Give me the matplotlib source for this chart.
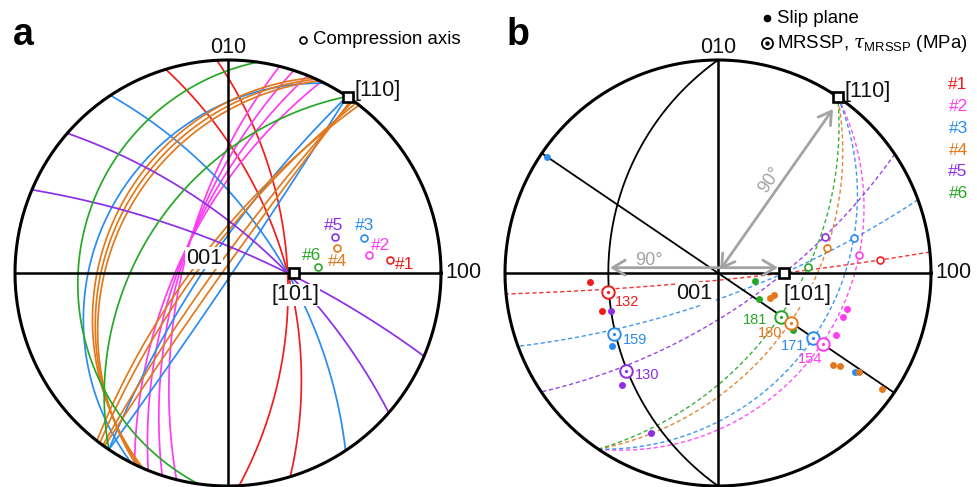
import numpy as np
import matplotlib.pyplot as plt

plt.rcParams['font.family'] = ['Liberation Sans', 'DejaVu Sans']
plt.rcParams['mathtext.fontset'] = 'custom'
plt.rcParams['mathtext.rm'] = 'Liberation Sans'
plt.rcParams['mathtext.it'] = 'DejaVu Serif:italic'

# stereographic coordinates: 001 at the centre, 100 to the right, 010 up
SAMPLES = ['#1', '#2', '#3', '#4', '#5', '#6']
COLORS = ['#f21c1c', '#ff3cf2', '#2a8cf0', '#e2791c', '#8e2ee6', '#26a826']

# compression axis of each sample
AXIS_U = [0.760, 0.663, 0.637, 0.512, 0.501, 0.423]
AXIS_V = [0.061, 0.085, 0.162, 0.116, 0.171, 0.027]

# zone axes
AZ_110 = 55.8          # [110] lies on the primitive
U_101 = 0.31           # [101] on the 100 axis
U_101_TRACE = 0.28     # where the measured traces meet near [101]

# slip plane traces (panel a): azimuth of one rim end (deg) and crossing on the 100 axis
TRACE_AZ = [
    [93, 107],
    [76, 72, 68, 64],
    [123.5, 63, 56, 56],
    [66.5, 65.5, 64.5, 52, 53, 54, 54.5],
    [139, 157],
    [82, 56],
]
TRACE_U = [
    [U_101_TRACE, U_101_TRACE],
    [-0.216, -0.228, -0.239, -0.249],
    [U_101_TRACE, -0.657, -0.122, 0.02],
    [-0.615, -0.597, -0.580, -0.178, -0.150, -0.070, -0.028],
    [U_101_TRACE, U_101_TRACE],
    [-0.704, -0.460],
]

# panel b: zones used for the dashed great circles through each compression axis
DASH_ZONES = [['101'], ['110'], ['110', '101'], ['110'], ['101'], ['110']]

# slip plane poles (panel b)
DOT_SAMPLE = [0, 0, 4, 2, 4, 4, 5, 5, 3, 3, 5, 1, 1, 1, 3, 3, 2, 3, 3, 2]
DOT_U = [-0.601, -0.546, -0.504, -0.499, -0.449, -0.316, 0.176, 0.194, 0.244, 0.265,
         0.352, 0.607, 0.588, 0.554, 0.540, 0.573, 0.643, 0.663, 0.771, -0.804]
DOT_V = [-0.044, -0.177, -0.177, -0.343, -0.526, -0.750, -0.036, -0.124, -0.117, -0.103,
         -0.268, -0.169, -0.207, -0.293, -0.432, -0.435, -0.463, -0.463, -0.545, 0.543]

# maximum resolved shear stress planes and their stress (MPa)
MRSSP_SAMPLE = [0, 2, 4, 5, 3, 2, 1]
MRSSP_U = [-0.515, -0.487, -0.433, 0.296, 0.343, 0.447, 0.492]
MRSSP_V = [-0.091, -0.288, -0.460, -0.205, -0.236, -0.304, -0.335]
MRSSP_TAU = [132, 159, 130, 181, 180, 171, 154]

# reference great circles of panel b: rim azimuth and 100-axis crossing
REF_AZ = [90, 145.8]
REF_U = [-0.515, 0.0]

R_PX = 213.0
W, H = 977, 487


def to_sphere(u, v):
    r2 = u * u + v * v
    return np.array([2 * u, 2 * v, 1 - r2]) / (1 + r2)


def rim(az):
    a = np.radians(az)
    return np.array([np.cos(a), np.sin(a), 0.0])


def great_circle(p, q, n_pts=400):
    n = np.cross(p, q)
    n /= np.linalg.norm(n)
    h = np.cross(n, [0.0, 0.0, 1.0])
    h /= np.linalg.norm(h)
    w = np.cross(n, h)
    if w[2] < 0:
        w = -w
    t = np.linspace(0, np.pi, n_pts)
    pts = np.outer(np.cos(t), h) + np.outer(np.sin(t), w)
    z = pts[:, 2]
    return pts[:, 0] / (1 + z), pts[:, 1] / (1 + z)


def make_panel(fig, left, right, cx, cy=273):
    ax = fig.add_axes([left / W, 0, (right - left) / W, 1])
    ax.set_xlim((left - cx) / R_PX, (right - cx) / R_PX)
    ax.set_ylim((cy - H) / R_PX, cy / R_PX)
    ax.axis('off')
    t = np.linspace(0, 2 * np.pi, 720)
    ax.plot(np.cos(t), np.sin(t), color='black', lw=2.2, zorder=4, clip_on=False)
    ax.plot([-1, 1], [0, 0], color='black', lw=1.8, zorder=3)
    ax.plot([0, 0], [-1, 1], color='black', lw=1.8, zorder=3)
    return ax


def square(ax, u, v):
    ax.plot(u, v, 's', ms=7.5, mfc='white', mec='black', mew=1.9, zorder=8)


fig = plt.figure(figsize=(W / 100, H / 100), dpi=100)
lab = dict(fontsize=15.5, color='#111111')
box = dict(facecolor='white', edgecolor='none', pad=0.6)
p110 = (np.cos(np.radians(AZ_110)), np.sin(np.radians(AZ_110)))

# ---- panel a: slip plane traces
ax = make_panel(fig, 0, 488, 228)
for k in range(len(SAMPLES)):
    for az, u in zip(TRACE_AZ[k], TRACE_U[k]):
        x, y = great_circle(rim(az), to_sphere(u, 0.0))
        ax.plot(x, y, color=COLORS[k], lw=1.25, zorder=2)

LABEL_A = [(0.831, 0.038), (0.714, 0.127), (0.643, 0.222), (0.513, 0.053), (0.498, 0.222), (0.393, 0.080)]
for k in range(len(SAMPLES)):
    ax.plot(AXIS_U[k], AXIS_V[k], 'o', ms=5, mfc='white', mec=COLORS[k], mew=1.2, zorder=6)
    ax.text(*LABEL_A[k], SAMPLES[k], color=COLORS[k], fontsize=12.5, ha='center', va='center', zorder=6)

square(ax, *p110)
square(ax, U_101, 0.0)
ax.text(0.0, 1.06, '010', ha='center', va='center', **lab)
ax.text(0.596, 0.859, '[110]', ha='left', va='center', **lab)
ax.text(1.02, 0.0, '100', ha='left', va='center', **lab)
ax.text(-0.028, 0.070, '001', ha='right', va='center', bbox=box, zorder=7, **lab)
ax.text(0.315, -0.103, '[101]', ha='center', va='center', bbox=box, zorder=7, **lab)
ax.text(-1.009, 1.07, 'a', fontsize=27, fontweight='bold', ha='left', va='baseline')
ax.plot(0.354, 1.094, 'o', ms=5, mfc='white', mec='black', mew=1.2, clip_on=False)
ax.text(0.399, 1.094, 'Compression axis', fontsize=13.4, ha='left', va='center')

# ---- panel b: MRSSP construction
ax = make_panel(fig, 488, 977, 718)
for az, u in zip(REF_AZ, REF_U):
    x, y = great_circle(rim(az), to_sphere(u, 0.0))
    ax.plot(x, y, color='black', lw=1.3, zorder=3)

zones = {'110': rim(AZ_110), '101': to_sphere(U_101, 0.0)}
for k in range(len(SAMPLES)):
    q = to_sphere(AXIS_U[k], AXIS_V[k])
    for z in DASH_ZONES[k]:
        x, y = great_circle(zones[z], q)
        ax.plot(x, y, color=COLORS[k], lw=1.0, ls=(0, (3, 2)), alpha=0.9, zorder=2)

for k, u, v in zip(DOT_SAMPLE, DOT_U, DOT_V):
    ax.plot(u, v, 'o', ms=5, color=COLORS[k], mew=0, zorder=6)

for k in range(len(SAMPLES)):
    ax.plot(AXIS_U[k], AXIS_V[k], 'o', ms=5, mfc='white', mec=COLORS[k], mew=1.2, zorder=6)

TAU_OFFSET = [(5, -7), (6.5, -4.3), (6.5, -3), (-10, -2.2), (-6.5, -7.2), (-5.8, -6), (-0.7, -10.8)]
for k, u, v, tau, off in zip(MRSSP_SAMPLE, MRSSP_U, MRSSP_V, MRSSP_TAU, TAU_OFFSET):
    ax.plot(u, v, 'o', ms=9, mfc='white', mec=COLORS[k], mew=1.4, zorder=7)
    ax.plot(u, v, 'o', ms=2.3, color=COLORS[k], mew=0, zorder=8)
    ax.annotate(str(tau), (u, v), xytext=off, textcoords='offset points', color=COLORS[k],
                fontsize=10.5, ha='left' if off[0] > 0 else 'right', va='center', zorder=8)

arrow = dict(arrowstyle='<->,head_length=0.5,head_width=0.3', color='#a3a3a3', lw=2.0,
             mutation_scale=18, shrinkA=0, shrinkB=0)
ax.annotate('', xy=(0.282, 0.025), xytext=(-0.507, 0.025), arrowprops=arrow, zorder=5)
ax.annotate('', xy=(0.54, 0.77), xytext=(0.01, 0.015), arrowprops=arrow, zorder=5)
ax.text(-0.324, 0.061, '90°', color='#a3a3a3', fontsize=13, ha='center', va='center')
ax.text(0.244, 0.437, '90°', color='#a3a3a3', fontsize=13, ha='center', va='center', rotation=56)

square(ax, *p110)
square(ax, U_101, 0.0)
ax.text(0.0, 1.06, '010', ha='center', va='center', **lab)
ax.text(0.596, 0.851, '[110]', ha='left', va='center', **lab)
ax.text(1.02, 0.0, '100', ha='left', va='center', **lab)
ax.text(-0.028, -0.095, '001', ha='right', va='center', bbox=box, zorder=7, **lab)
ax.text(0.420, -0.103, '[101]', ha='center', va='center', bbox=box, zorder=7, **lab)
ax.text(-0.991, 1.07, 'b', fontsize=27, fontweight='bold', ha='left', va='baseline')

ax.plot(0.229, 1.196, 'o', ms=4.5, color='black', clip_on=False)
ax.text(0.276, 1.196, 'Slip plane', fontsize=13.4, ha='left', va='center')
ax.plot(0.229, 1.078, 'o', ms=8, mfc='white', mec='black', mew=1.3, clip_on=False)
ax.plot(0.229, 1.078, 'o', ms=2.2, color='black', clip_on=False)
ax.text(0.277, 1.078, r'MRSSP, $\tau_{\mathrm{MRSSP}}$ (MPa)', fontsize=13.4, ha='left', va='center')

LIST_V = [0.883, 0.781, 0.679, 0.577, 0.476, 0.371]
for k in range(len(SAMPLES)):
    ax.text(1.127, LIST_V[k], SAMPLES[k], color=COLORS[k], fontsize=12.5, ha='center', va='center',
            clip_on=False)

fig.savefig('out.png', dpi=100)
